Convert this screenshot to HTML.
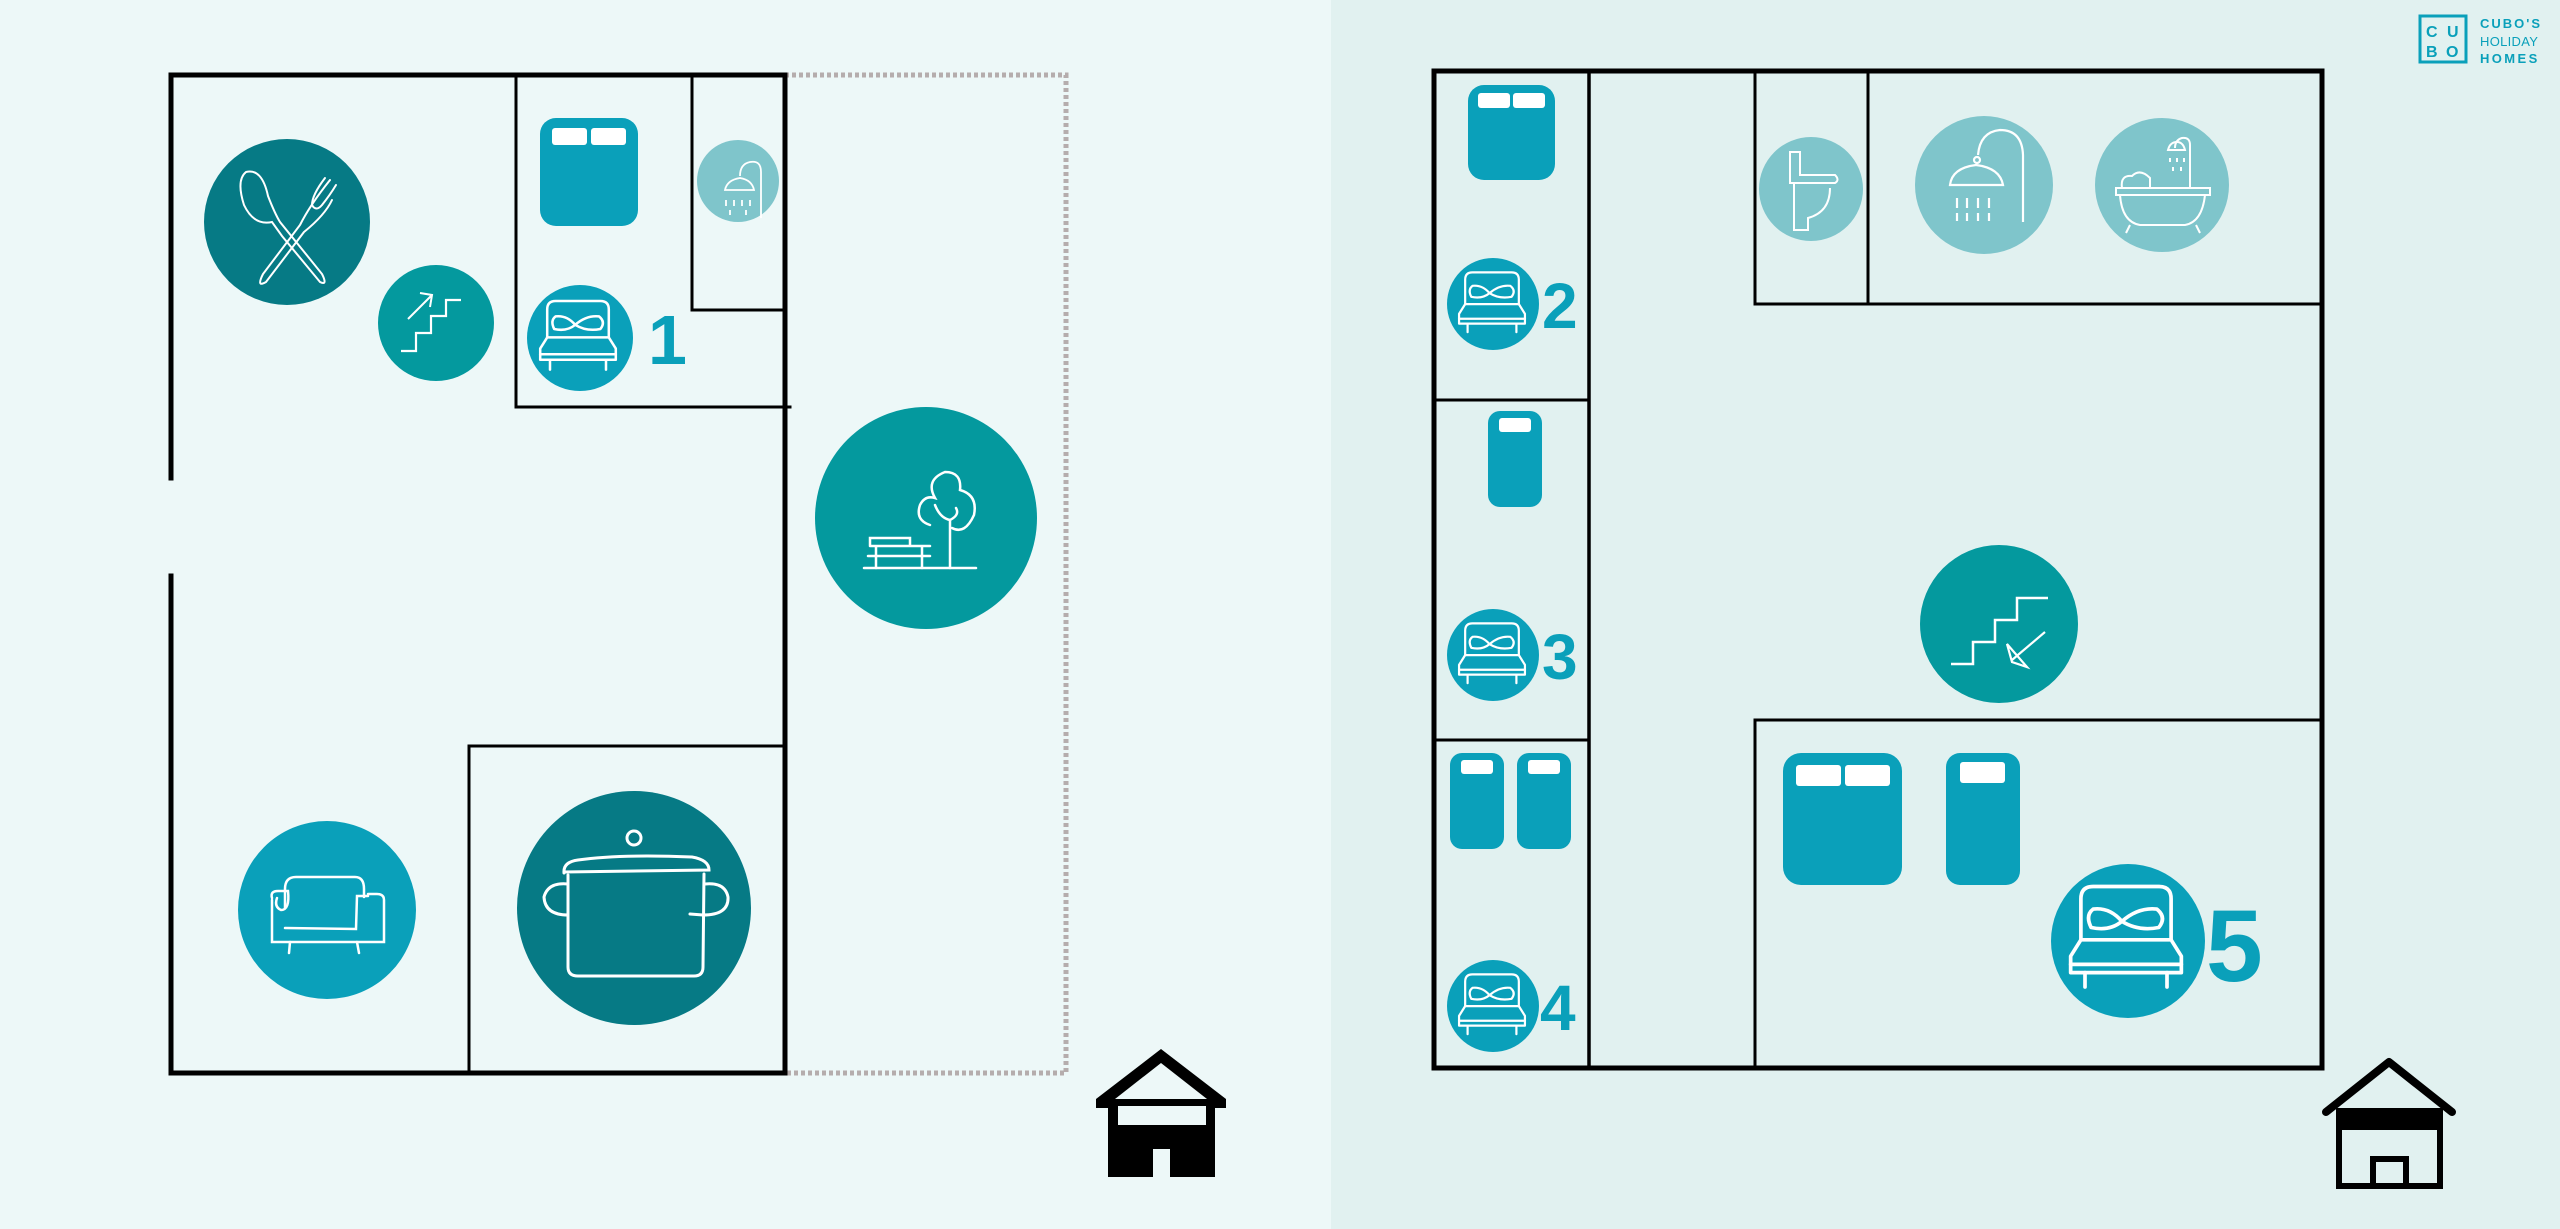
<!DOCTYPE html>
<html><head><meta charset="utf-8"><style>
html,body{margin:0;padding:0;width:2560px;height:1229px;overflow:hidden;background:#edf8f8}
svg{display:block}
</style></head><body>
<svg width="2560" height="1229" viewBox="0 0 2560 1229" xmlns="http://www.w3.org/2000/svg">
<defs>
<g id="bed" fill="none" stroke="#fff" stroke-width="1.8" stroke-linecap="round" stroke-linejoin="round">
<path d="M-22,-4 L-22,-24 Q-22,-30 -16,-30 L16,-30 Q22,-30 22,-24 L22,-4"/>
<path d="M-2,-13 Q-8,-20 -16,-19 Q-20,-16 -17,-10 Q-8,-8 -2,-13 Q6,-20 15,-19 Q20,-15 16,-10 Q6,-8 -2,-13"/>
<path d="M-22,-4 L-27,4 L-27,12 L27,12 L27,4 L22,-4 Z"/>
<path d="M-27,8 L27,8"/>
<path d="M-20,12 L-20,19 M20,12 L20,19"/>
</g>
<g id="sbed"><rect x="0" y="0" width="54" height="96" rx="12" fill="#0aa0ba"/><rect x="11" y="7" width="32" height="14" rx="3" fill="#fff"/></g>
</defs>
<rect x="1331" y="0" width="1229" height="1229" fill="#e1f1f0"/>

<!-- LEFT PLAN -->
<rect x="785" y="75" width="281" height="998" fill="none" stroke="#b5adad" stroke-width="5" stroke-dasharray="4 3"/>
<g fill="none" stroke="#000" stroke-linecap="square">
<path d="M171,478 L171,75 L785,75 L785,1073 L171,1073 L171,576" stroke-width="5"/>
<path d="M516,75 L516,407 L790,407" stroke-width="3"/>
<path d="M692,75 L692,310 L785,310" stroke-width="3"/>
<path d="M469,1073 L469,746 L785,746" stroke-width="3"/>
</g>
<!-- dining -->
<circle cx="287" cy="222" r="83" fill="#067a85"/>
<g fill="none" stroke="#fff" stroke-width="2" stroke-linecap="round">
<path d="M268,196 Q262,168 246,172 Q236,180 244,205 Q254,226 272,222 L282,236 L320,282 Q328,286 322,274 L280,222 Q275,214 268,196"/>
<path d="M330,180 Q310,205 300,225 L263,274 Q256,288 266,282 L304,232 Q325,215 332,200"/>
<path d="M325,178 Q312,195 312,205 Q316,212 322,205 Q330,195 336,185"/>
</g>
<!-- stairs up -->
<circle cx="436" cy="323" r="58" fill="#04999e"/>
<path d="M401,351 L416,351 L416,333 L431,333 L431,316 L446,316 L446,300 L461,300" fill="none" stroke="#fff" stroke-width="2.2"/>
<path d="M408,319 L432,295 M420,293 L432,295 L430,307" fill="none" stroke="#fff" stroke-width="2"/>
<!-- bed 1 -->
<rect x="540" y="118" width="98" height="108" rx="16" fill="#0aa0ba"/>
<rect x="552" y="128" width="35" height="17" rx="3" fill="#fff"/><rect x="591" y="128" width="35" height="17" rx="3" fill="#fff"/>
<circle cx="738" cy="181" r="41" fill="#7fc5cb"/>
<g fill="none" stroke="#fff" stroke-width="1.8"><path d="M761,218 L761,172 Q761,160 750,162 Q740,164 740,176"/><path d="M725,190 Q727,180 740,178 Q752,180 754,190 Z"/><path d="M726,200 v6 M734,200 v6 M742,200 v6 M750,200 v6 M730,210 v5 M746,210 v5"/></g>
<circle cx="580" cy="338" r="53" fill="#0aa0ba"/>
<use href="#bed" transform="translate(578,343) scale(1.4)"/>
<text x="648" y="364" font-family="Liberation Sans, sans-serif" font-weight="bold" font-size="70" fill="#0aa0ba">1</text>
<!-- garden -->
<circle cx="926" cy="518" r="111" fill="#04999e"/>
<g fill="none" stroke="#fff" stroke-width="2.5" stroke-linecap="round"><path d="M864,568 L976,568"/><path d="M870,546 L930,546 M868,556 L930,556 M876,546 L876,568 M922,546 L922,568 M870,546 L870,538 L910,538 L910,546"/><path d="M950,568 L950,520 Q940,518 935,505 M950,520 Q960,515 956,508"/><path d="M930,525 Q915,520 920,505 Q925,495 935,498 Q925,480 945,472 Q962,472 960,490 Q978,495 974,515 Q965,535 952,528"/></g>
<!-- sofa -->
<circle cx="327" cy="910" r="89" fill="#0aa0ba"/>
<g fill="none" stroke="#fff" stroke-width="2.5" stroke-linecap="round"><path d="M272,900 L272,942 L384,942 L384,900 Q384,894 377,894 L368,894"/><path d="M285,928 L356,929 L357,896 L368,896"/><path d="M285,908 L285,889 Q285,877 296,877 L355,877 Q364,877 364,889 L364,897"/><path d="M272,898 Q270,891 278,891 L288,891 Q290,910 281,910 Q274,907 277,898"/><path d="M290,942 L289,953 M357,942 L359,953"/></g>
<!-- pot -->
<circle cx="634" cy="908" r="117" fill="#067a85"/>
<g fill="none" stroke="#fff" stroke-width="3" stroke-linecap="round"><path d="M568,875 L568,967 Q568,976 578,976 L694,976 Q703,976 703,967 L704,874"/><path d="M564,873 Q563,862 578,860 Q620,854 692,857 Q709,860 709,870 L564,872"/><circle cx="634" cy="838" r="7"/><path d="M568,884 Q548,882 544,897 Q545,915 568,915"/><path d="M705,884 Q725,882 728,897 Q729,915 703,915 L690,914"/></g>
<!-- house left -->
<g fill="#000"><path d="M1096,1099 L1161,1049 L1226,1099 L1226,1108 L1215,1108 L1215,1177 L1170,1177 L1170,1149 L1153,1149 L1153,1177 L1108,1177 L1108,1108 L1096,1108 Z"/></g>
<path d="M1115,1099 L1161,1063 L1207,1099 Z" fill="#edf8f8"/>
<rect x="1118" y="1106" width="88" height="19" fill="#edf8f8"/>
<g stroke="#000" stroke-width="6" stroke-linecap="round"><path d="M1100,1102 L1126,1102 M1137,1102 L1152,1102 M1166,1102 L1181,1102 M1195,1102 L1222,1102"/></g>

<!-- RIGHT PLAN -->
<g fill="none" stroke="#000" stroke-linecap="square">
<rect x="1434" y="71" width="888" height="997" stroke-width="5"/>
<path d="M1589,71 L1589,1068" stroke-width="3.5"/>
<path d="M1434,400 L1589,400 M1434,740 L1589,740" stroke-width="3"/>
<path d="M1755,71 L1755,304 L2322,304 M1868,71 L1868,304" stroke-width="3"/>
<path d="M1755,1068 L1755,720 L2322,720" stroke-width="3"/>
</g>
<rect x="1468" y="85" width="87" height="95" rx="16" fill="#0aa0ba"/>
<rect x="1478" y="93" width="32" height="15" rx="3" fill="#fff"/><rect x="1513" y="93" width="32" height="15" rx="3" fill="#fff"/>
<use href="#sbed" transform="translate(1488,411)"/>
<use href="#sbed" transform="translate(1450,753)"/>
<use href="#sbed" transform="translate(1517,753)"/>
<g font-family="Liberation Sans, sans-serif" font-weight="bold" font-size="64" fill="#0aa0ba">
<circle cx="1493" cy="304" r="46" fill="#0aa0ba"/><use href="#bed" transform="translate(1492,309) scale(1.22)"/><text x="1542" y="328">2</text>
<circle cx="1493" cy="655" r="46" fill="#0aa0ba"/><use href="#bed" transform="translate(1492,660) scale(1.22)"/><text x="1542" y="679">3</text>
<circle cx="1493" cy="1006" r="46" fill="#0aa0ba"/><use href="#bed" transform="translate(1492,1011) scale(1.22)"/><text x="1540" y="1030">4</text>
</g>
<!-- WC / shower / bath -->
<circle cx="1811" cy="189" r="52" fill="#7fc5cb"/>
<g fill="none" stroke="#fff" stroke-width="2"><path d="M1790,152 L1800,152 L1800,175 L1835,175 Q1840,180 1835,183 L1790,183 Z"/><path d="M1794,183 L1794,230 L1808,230 L1808,218 Q1830,212 1830,188"/></g>
<circle cx="1984" cy="185" r="69" fill="#7fc5cb"/>
<g fill="none" stroke="#fff" stroke-width="2.2"><path d="M2023,222 L2023,155 Q2022,130 2000,130 Q1980,132 1978,155"/><circle cx="1977" cy="160" r="3"/><path d="M1950,185 Q1952,168 1976,165 Q2000,168 2003,185 Z"/><path d="M1957,198 v10 M1967,198 v10 M1978,198 v10 M1989,198 v10 M1957,213 v8 M1967,213 v8 M1978,213 v8 M1989,213 v8"/></g>
<circle cx="2162" cy="185" r="67" fill="#7fc5cb"/>
<g fill="none" stroke="#fff" stroke-width="2"><path d="M2116,188 L2210,188 L2210,195 L2116,195 Z"/><path d="M2120,195 Q2122,222 2140,225 L2185,225 Q2202,222 2205,195"/><path d="M2130,225 l-4,8 M2196,225 l4,8"/><path d="M2122,188 Q2120,175 2132,176 Q2140,168 2150,178 L2150,188"/><path d="M2190,188 L2190,145 Q2190,137 2182,138 Q2175,140 2175,148"/><path d="M2168,150 Q2170,142 2177,142 Q2183,142 2185,150 Z"/><path d="M2170,158 v4 M2177,158 v4 M2184,158 v4 M2173,167 v4 M2181,167 v4"/></g>
<!-- stairs down -->
<circle cx="1999" cy="624" r="79" fill="#04999e"/>
<path d="M1951,664 L1973,664 L1973,642 L1995,642 L1995,620 L2017,620 L2017,598 L2048,598" fill="none" stroke="#fff" stroke-width="2.5"/>
<path d="M2045,632 L2012,660 M2007,644 L2012,662 L2027,667 Z" fill="none" stroke="#fff" stroke-width="2.2"/>
<!-- room 5 -->
<rect x="1783" y="753" width="119" height="132" rx="18" fill="#0aa0ba"/>
<rect x="1796" y="765" width="45" height="21" rx="3" fill="#fff"/><rect x="1845" y="765" width="45" height="21" rx="3" fill="#fff"/>
<rect x="1946" y="753" width="74" height="132" rx="14" fill="#0aa0ba"/>
<rect x="1960" y="762" width="45" height="21" rx="3" fill="#fff"/>
<circle cx="2128" cy="941" r="77" fill="#0aa0ba"/>
<use href="#bed" transform="translate(2126,948) scale(2.05)"/>
<text x="2206" y="981" font-family="Liberation Sans, sans-serif" font-weight="bold" font-size="102" fill="#0aa0ba">5</text>
<!-- house right -->
<path d="M2326,1112 L2389,1062 L2452,1112" fill="none" stroke="#000" stroke-width="8" stroke-linejoin="round" stroke-linecap="round"/>
<rect x="2336" y="1108" width="107" height="22" fill="#000"/>
<path d="M2339,1128 L2339,1186 L2440,1186 L2440,1128 M2373,1186 L2373,1159 L2406,1159 L2406,1186" fill="none" stroke="#000" stroke-width="6"/>
<!-- logo -->
<rect x="2420" y="16" width="46" height="46" fill="none" stroke="#0aa0ba" stroke-width="3"/>
<g font-family="Liberation Sans, sans-serif" font-weight="bold" font-size="16" fill="#0aa0ba">
<text x="2426" y="37">C</text><text x="2447" y="37">U</text><text x="2426" y="57">B</text><text x="2446" y="57">O</text>
<text x="2480" y="28" font-size="13" letter-spacing="2">CUBO'S</text>
<text x="2480" y="46" font-size="13" font-weight="normal" letter-spacing="0.3">HOLIDAY</text>
<text x="2480" y="63" font-size="13" letter-spacing="2.4">HOMES</text>
</g>
</svg>
</body></html>
